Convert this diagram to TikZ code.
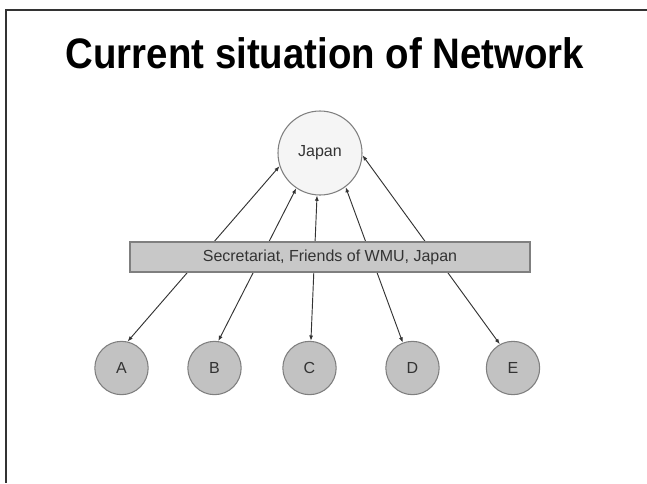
\documentclass[tikz,border=0pt]{standalone}
\usepackage{fontspec}
\setmainfont{Liberation Sans}
\usetikzlibrary{arrows.meta}
\definecolor{edgegray}{HTML}{7F7F7F}
\definecolor{barfill}{HTML}{C8C8C8}
\definecolor{nodefill}{HTML}{C2C2C2}
\definecolor{hubfill}{HTML}{F5F5F5}
\definecolor{inkgray}{HTML}{333333}
\tikzset{
  hub/.style={circle, draw=edgegray, fill=hubfill, line width=0.8pt,
    minimum size=63pt, inner sep=0pt, font=\fontsize{12}{14}\selectfont, text=inkgray},
  member/.style={circle, draw=edgegray, fill=nodefill, line width=0.8pt,
    minimum size=40pt, inner sep=0pt, font=\fontsize{12}{14}\selectfont, text=inkgray},
  secbar/.style={rectangle, draw=edgegray, fill=barfill, line width=0.8pt,
    minimum width=300pt, minimum height=22.5pt, inner sep=0pt,
    font=\fontsize{12}{14}\selectfont, text=inkgray},
  link/.style={draw=inkgray, line width=0.7pt,
    {Latex[length=4pt,width=3pt]}-{Latex[length=4pt,width=3pt]}},
  frameline/.style={draw=black!80, line width=1.1pt},
  heading/.style={font=\fontsize{32}{36}\selectfont\bfseries, xscale=0.9, inner sep=0pt, anchor=base}
}
\begin{document}
\begin{tikzpicture}[x=0.75pt, y=-0.75pt]
  \useasboundingbox (0,0) rectangle (647,483);
  % slide frame: top rule and left rule
  \draw[frameline] (647,10) -- (6,10) -- (6,483);

  % title
  \node[heading] (title) at (325,68) {Current situation of Network};

  % hub and member nodes
  \node[hub] (J) at (320,153) {Japan};
  \node[member] (A) at (121.5,368) {A};
  \node[member] (B) at (214.5,368) {B};
  \node[member] (C) at (309.5,368) {C};
  \node[member] (D) at (412.5,368) {D};
  \node[member] (E) at (513,368) {E};

  % links between members and the hub
  \draw[link] (A.77) -- (J.198);
  \draw[link] (B.82) -- (J.236);
  \draw[link] (C.87) -- (J.266);
  \draw[link] (D.111) -- (J.307);
  \draw[link] (E.119) -- (J.357);

  % secretariat bar lies over the links
  \node[secbar] (S) at (330,257) {Secretariat, Friends of WMU, Japan};
\end{tikzpicture}
\end{document}
